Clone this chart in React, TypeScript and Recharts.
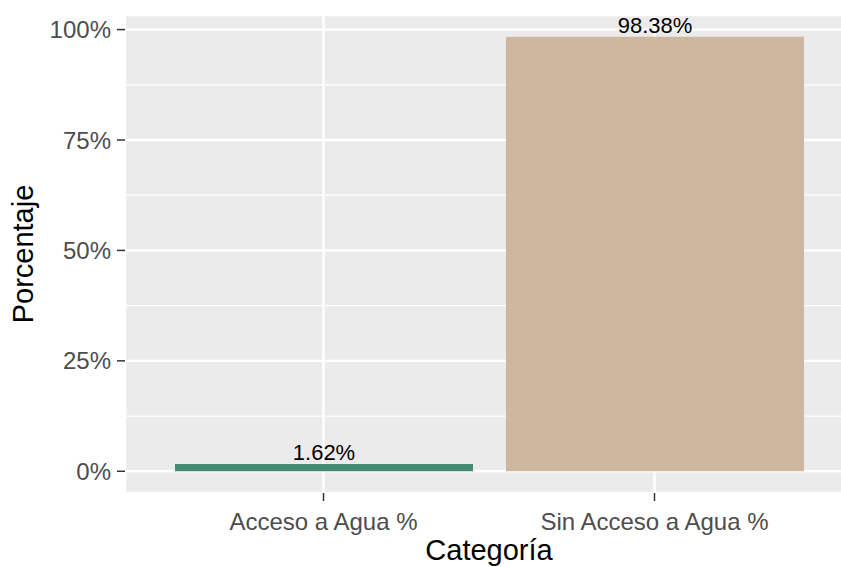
import { Bar, BarChart, CartesianGrid, Cell, LabelList, XAxis, YAxis } from "recharts";

const categorias = ["Acceso a Agua %", "Sin Acceso a Agua %"];
const porcentajes = [1.62, 98.38];
const colores = ["#458B74", "#CDB79E"];
const yTicks = [0, 25, 50, 75, 100];
const yMinorTicks = [12.5, 37.5, 62.5, 87.5];
const yDomain = [-4.92, 103.3];

const data = categorias.map((categoria, i) => ({ categoria, porcentaje: porcentajes[i] }));

const font = "'Liberation Sans', Arial, sans-serif";

function YTitle(props: any) {
  const vb = props.viewBox ?? {};
  const cy = (vb.y ?? 0) + (vb.height ?? 0) / 2;
  return (
    <text
      x={33}
      y={cy}
      transform={`rotate(-90, 33, ${cy})`}
      textAnchor="middle"
      fontSize={29}
      fill="#000000"
      fontFamily={font}
    >
      Porcentaje
    </text>
  );
}

export default function App() {
  return (
    <div
      style={{
        position: "absolute",
        left: 0,
        top: 0,
        width: 841,
        height: 567,
        overflow: "hidden",
        background: "#ffffff",
        fontFamily: font,
      }}
    >
      <BarChart
        width={880}
        height={567}
        data={data}
        margin={{ top: 15, right: 27, bottom: 0, left: 0 }}
      >
        <CartesianGrid
          yAxisId="minor"
          vertical={false}
          stroke="#ffffff"
          strokeWidth={1.3}
          fill="#EBEBEB"
          fillOpacity={1}
        />
        <CartesianGrid stroke="#ffffff" strokeWidth={2.4} fill="none" />
        <XAxis
          dataKey="categoria"
          type="category"
          padding={{ left: 33, right: 33 }}
          height={74}
          tickSize={8}
          tickMargin={12}
          axisLine={false}
          tickLine={{ stroke: "#333333", strokeWidth: 1.5 }}
          tick={{ fill: "#4D4D4D", fontSize: 24, fontFamily: font }}
          label={{
            value: "Categoría",
            position: "insideBottom",
            offset: 7,
            fontSize: 29,
            fill: "#000000",
            fontFamily: font,
          }}
        />
        <YAxis
          yAxisId="minor"
          hide
          type="number"
          domain={yDomain}
          ticks={yMinorTicks}
          allowDataOverflow
        />
        <YAxis
          type="number"
          domain={yDomain}
          ticks={yTicks}
          allowDataOverflow
          width={125}
          tickSize={8}
          tickMargin={6}
          axisLine={false}
          tickLine={{ stroke: "#333333", strokeWidth: 1.5 }}
          tick={{ fill: "#4D4D4D", fontSize: 24, fontFamily: font }}
          tickFormatter={(v: number) => `${v}%`}
          label={{ content: <YTitle /> }}
        />
        <Bar dataKey="porcentaje" barSize={298} isAnimationActive={false}>
          {data.map((d, i) => (
            <Cell key={d.categoria} fill={colores[i]} />
          ))}
          <LabelList
            dataKey="porcentaje"
            position="top"
            offset={4}
            formatter={(v: any) => `${v}%`}
            style={{ fontSize: 22, fill: "#000000", fontFamily: font }}
          />
        </Bar>
      </BarChart>
    </div>
  );
}
